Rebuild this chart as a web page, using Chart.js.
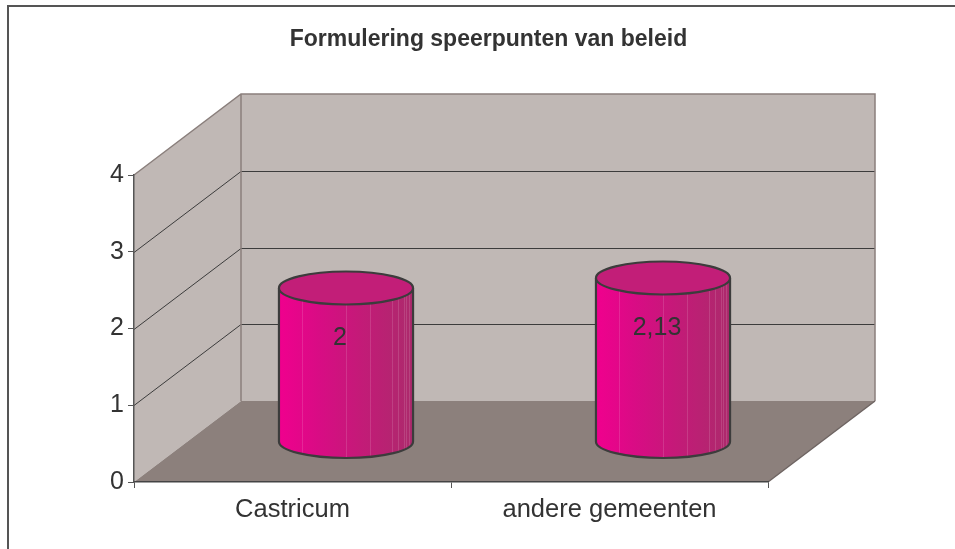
<!DOCTYPE html>
<html>
<head>
<meta charset="utf-8">
<title>Formulering speerpunten van beleid</title>
<script src="https://cdn.jsdelivr.net/npm/chart.js@4/dist/chart.umd.min.js"></script>
<style>
  html, body { margin: 0; padding: 0; background: #fff; }
  #wrap { width: 955px; height: 549px; position: relative; }
</style>
</head>
<body>
<div id="wrap"><canvas id="speerpunten_chart"></canvas></div>
<script>
/************ data ************/
const categories = ['Castricum', 'andere gemeenten'];
const scores = [2, 2.13];
const yMin = 0;
const yMax = 4;
const yStep = 1;
const chartTitle = 'Formulering speerpunten van beleid';

/************ 3D look ************/
const DX = 107;   // depth offset to the right
const DY = 81;    // depth offset upwards
const wallColor = '#c0b8b5';
const floorColor = '#8c807c';
const edgeColor = '#8a7f7c';
const gridColor = '#3c3c3c';
const textColor = '#333333';
const fontFamily = '"Liberation Sans", Arial, sans-serif';

// walls, floor and 3d gridlines, drawn behind the axes
const walls3d = {
  id: 'walls3d',
  beforeDraw(chart) {
    const ctx = chart.ctx;
    const y = chart.scales.y;
    const l = chart.chartArea.left, r = chart.chartArea.right;
    const y0 = y.getPixelForValue(yMin), yTop = y.getPixelForValue(yMax);
    ctx.save();

    // outer frame
    ctx.strokeStyle = '#555';
    ctx.lineWidth = 2;
    ctx.beginPath();
    ctx.moveTo(8, 560);
    ctx.lineTo(8, 6);
    ctx.lineTo(960, 6);
    ctx.stroke();

    // back wall
    ctx.fillStyle = wallColor;
    ctx.fillRect(l + DX, yTop - DY, r - l, y0 - yTop);
    // side wall
    ctx.beginPath();
    ctx.moveTo(l, y0);
    ctx.lineTo(l, yTop);
    ctx.lineTo(l + DX, yTop - DY);
    ctx.lineTo(l + DX, y0 - DY);
    ctx.closePath();
    ctx.fill();
    // floor
    ctx.fillStyle = floorColor;
    ctx.beginPath();
    ctx.moveTo(l, y0);
    ctx.lineTo(r, y0);
    ctx.lineTo(r + DX, y0 - DY);
    ctx.lineTo(l + DX, y0 - DY);
    ctx.closePath();
    ctx.fill();

    // gridlines
    ctx.lineWidth = 1;
    for (let v = yMin + yStep; v < yMax; v += yStep) {
      const py = Math.round(y.getPixelForValue(v)) + 0.5;
      ctx.strokeStyle = gridColor;
      ctx.beginPath();
      ctx.moveTo(l, py);
      ctx.lineTo(l + DX, py - DY);
      ctx.lineTo(r + DX, py - DY);
      ctx.stroke();
    }

    // wall edges
    ctx.strokeStyle = edgeColor;
    ctx.lineWidth = 1.5;
    ctx.beginPath();
    ctx.moveTo(l, yTop);
    ctx.lineTo(l + DX, yTop - DY);
    ctx.lineTo(r + DX, yTop - DY);
    ctx.lineTo(r + DX, y0 - DY);
    ctx.moveTo(l + DX, yTop - DY);
    ctx.lineTo(l + DX, y0 - DY);
    ctx.stroke();
    ctx.strokeStyle = '#6e6462';
    ctx.beginPath();
    ctx.moveTo(r, y0);
    ctx.lineTo(r + DX, y0 - DY);
    ctx.stroke();
    ctx.restore();
  }
};

// cylinders and their value labels
const cylinders = {
  id: 'cylinders',
  afterDatasetsDraw(chart) {
    const ctx = chart.ctx;
    const y = chart.scales.y;
    const meta = chart.getDatasetMeta(0);
    const facets = [0.17, 0.5, 0.68, 0.84, 0.89, 0.93, 0.95, 0.97];
    ctx.save();
    meta.data.forEach(function(bar, i) {
      const cx = bar.x + DX / 2;
      const rx = bar.width / 2;
      const ry = 16.5;
      const yb = y.getPixelForValue(yMin) - DY / 2;
      const yt = bar.y - DY / 2;

      // body
      const grad = ctx.createLinearGradient(cx - rx, 0, cx + rx, 0);
      grad.addColorStop(0, '#f0008e');
      grad.addColorStop(0.3, '#d80c84');
      grad.addColorStop(0.6, '#c41a78');
      grad.addColorStop(1, '#ac2a6c');
      ctx.fillStyle = grad;
      ctx.beginPath();
      ctx.moveTo(cx - rx, yt);
      ctx.lineTo(cx - rx, yb);
      ctx.ellipse(cx, yb, rx, ry, 0, Math.PI, 0, true);
      ctx.lineTo(cx + rx, yt);
      ctx.ellipse(cx, yt, rx, ry, 0, 0, Math.PI, false);
      ctx.closePath();
      ctx.fill();

      // faint facet lines
      ctx.strokeStyle = 'rgba(255,255,255,0.13)';
      ctx.lineWidth = 1;
      facets.forEach(function(f) {
        const fx = Math.round(cx - rx + f * 2 * rx) + 0.5;
        const off = ry * Math.sqrt(Math.max(0, 1 - Math.pow((fx - cx) / rx, 2)));
        ctx.beginPath();
        ctx.moveTo(fx, yt + off);
        ctx.lineTo(fx, yb + off);
        ctx.stroke();
      });

      // outline of body
      ctx.strokeStyle = '#3c3c3c';
      ctx.lineWidth = 2.2;
      ctx.beginPath();
      ctx.moveTo(cx - rx, yt);
      ctx.lineTo(cx - rx, yb);
      ctx.ellipse(cx, yb, rx, ry, 0, Math.PI, 0, true);
      ctx.lineTo(cx + rx, yt);
      ctx.stroke();

      // top
      ctx.fillStyle = '#c21e78';
      ctx.beginPath();
      ctx.ellipse(cx, yt, rx, ry, 0, 0, Math.PI * 2);
      ctx.fill();
      ctx.stroke();

      // value label
      ctx.fillStyle = textColor;
      ctx.font = '25px ' + fontFamily;
      ctx.textAlign = 'center';
      ctx.textBaseline = 'middle';
      const label = String(scores[i]).replace('.', ',');
      ctx.fillText(label, cx - 6, yt + 50);
    });
    ctx.restore();
  }
};

/************ chart ************/
const ctx = document.getElementById('speerpunten_chart');

const data = {
  labels: categories,
  datasets: [{
    label: chartTitle,
    data: scores,
    backgroundColor: 'rgba(0,0,0,0)',
    borderWidth: 0,
    barPercentage: 0.423,
    categoryPercentage: 1
  }]
};

const config = {
  type: 'bar',
  data: data,
  plugins: [walls3d, cylinders],
  options: {
    responsive: true,
    maintainAspectRatio: false,
    animation: false,
    layout: {
      padding: { left: 22, right: 0, top: 0, bottom: 0 }
    },
    scales: {
      x: {
        offset: true,
        grid: {
          offset: true,
          drawOnChartArea: false,
          drawTicks: true,
          tickLength: 6,
          color: '#555'
        },
        border: { color: '#444', width: 1.5 },
        ticks: {
          color: textColor,
          padding: 7,
          maxRotation: 0,
          font: { family: fontFamily, size: 25.5 }
        },
        afterFit: function(scale) { scale.height = 67; }
      },
      y: {
        min: yMin,
        max: yMax,
        grid: {
          drawOnChartArea: false,
          drawTicks: true,
          tickLength: 6,
          color: '#555'
        },
        border: { color: '#555', width: 1.5 },
        ticks: {
          stepSize: yStep,
          color: textColor,
          padding: 4,
          font: { family: fontFamily, size: 25 }
        },
        afterFit: function(scale) { scale.width = 112; }
      },
      // empty room on the right for the depth of the floor
      yRight: {
        position: 'right',
        grid: { display: false },
        border: { display: false },
        ticks: { display: false },
        afterFit: function(scale) { scale.width = 187; }
      }
    },
    plugins: {
      legend: { display: false },
      tooltip: { enabled: false },
      title: {
        display: true,
        text: chartTitle,
        color: textColor,
        font: { family: fontFamily, size: 23, weight: 'bold' },
        padding: { top: 26, bottom: 121.4 }
      }
    }
  }
};

new Chart(ctx, config);
</script>
</body>
</html>
